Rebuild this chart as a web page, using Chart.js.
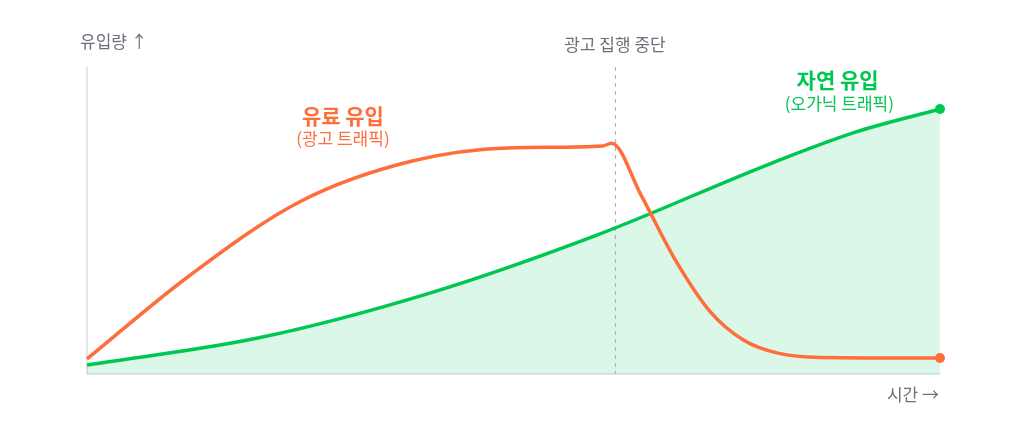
<!DOCTYPE html>
<html><head><meta charset="utf-8">
<script src="https://cdn.jsdelivr.net/npm/chart.js@4"></script>
<style>html,body{margin:0;padding:0;background:#fff}#wrap{width:1024px;height:422px}</style>
</head><body><div id="wrap"><canvas id="c"></canvas></div>
<script>
// time (x) positions and traffic values
const paidTime = [0,12,25,38,50,60.5,61.5,65,69,73,77,81,86,100];
const paidValues = [4.9,32,56.2,69.3,73.7,74.3,75.2,58,37,20.5,11,6.8,5.4,5.2];
const organicTime = [0,20,40,60,80,90,100];
const organicValues = [2.9,11.7,26.2,45.5,68.4,78.7,86.3];
const stopTime = 61.9;
const labels = {
  yAxis: '유입량 ↑', xAxis: '시간 →', stop: '광고 집행 중단',
  paidTitle: '유료 유입', paidSub: '(광고 트래픽)',
  organicTitle: '자연 유입', organicSub: '(오가닉 트래픽)'
};
const ORANGE = '#ff6d3b', GREEN = '#00c752';
const FONT = '"Noto Sans CJK KR", "Noto Sans", sans-serif';

const toPts = (xs, ys) => xs.map((x, i) => ({x, y: ys[i]}));
const lastOnly = r => ctx => ctx.dataIndex === ctx.dataset.data.length - 1 ? r : 0;

const deco = {
  id: 'deco',
  beforeDatasetsDraw(chart) {
    const {ctx, chartArea: a, scales: {x}} = chart;
    ctx.save();
    ctx.strokeStyle = '#dcdfe3'; ctx.lineWidth = 1.5;
    ctx.beginPath();
    ctx.moveTo(a.left, a.top); ctx.lineTo(a.left, a.bottom); ctx.lineTo(a.right, a.bottom);
    ctx.stroke();
    const sx = Math.round(x.getPixelForValue(stopTime)) + 0.5;
    ctx.strokeStyle = '#b4b8be'; ctx.lineWidth = 1.2; ctx.setLineDash([4, 4]);
    ctx.beginPath(); ctx.moveTo(sx, a.top); ctx.lineTo(sx, a.bottom); ctx.stroke();
    ctx.restore();
  },
  afterDatasetsDraw(chart) {
    const {ctx, chartArea: a, scales: {x}} = chart;
    ctx.save();
    ctx.textBaseline = 'middle';
    ctx.fillStyle = '#6b7079';
    ctx.font = '17px ' + FONT;
    ctx.textAlign = 'left';
    ctx.fillText(labels.yAxis, a.left - 7, a.top - 25);
    ctx.textAlign = 'right';
    ctx.fillText(labels.xAxis, a.right - 1, a.bottom + 21);
    ctx.textAlign = 'center';
    ctx.fillText(labels.stop, x.getPixelForValue(stopTime), a.top - 22);
    ctx.fillStyle = ORANGE;
    ctx.font = 'bold 21px ' + FONT;
    ctx.fillText(labels.paidTitle, x.getPixelForValue(30), a.top + 49);
    ctx.font = '17px ' + FONT;
    ctx.fillText(labels.paidSub, x.getPixelForValue(30), a.top + 72);
    ctx.fillStyle = GREEN;
    ctx.font = 'bold 21px ' + FONT;
    ctx.fillText(labels.organicTitle, x.getPixelForValue(88), a.top + 13);
    ctx.font = '17px ' + FONT;
    ctx.fillText(labels.organicSub, x.getPixelForValue(88.2), a.top + 37);
    ctx.restore();
  }
};

new Chart(document.getElementById('c'), {
  type: 'line',
  data: {
    datasets: [
      {
        label: labels.paidTitle,
        data: toPts(paidTime, paidValues),
        borderColor: ORANGE, backgroundColor: ORANGE,
        borderWidth: 3.5, fill: false,
        cubicInterpolationMode: 'monotone',
        pointRadius: lastOnly(5), pointHoverRadius: 0, pointBorderWidth: 0,
        clip: false
      },
      {
        label: labels.organicTitle,
        data: toPts(organicTime, organicValues),
        borderColor: GREEN, pointBackgroundColor: GREEN,
        backgroundColor: 'rgba(0,199,82,0.14)',
        borderWidth: 3.5, fill: 'origin',
        cubicInterpolationMode: 'monotone',
        pointRadius: lastOnly(5), pointHoverRadius: 0, pointBorderWidth: 0,
        clip: false
      }
    ]
  },
  options: {
    responsive: true, maintainAspectRatio: false, animation: false,
    layout: {padding: {left: 87, right: 84, top: 67, bottom: 48}},
    plugins: {legend: {display: false}, tooltip: {enabled: false}},
    scales: {
      x: {type: 'linear', min: 0, max: 100, display: false},
      y: {min: 0, max: 100, display: false}
    }
  },
  plugins: [deco]
});
</script></body></html>
